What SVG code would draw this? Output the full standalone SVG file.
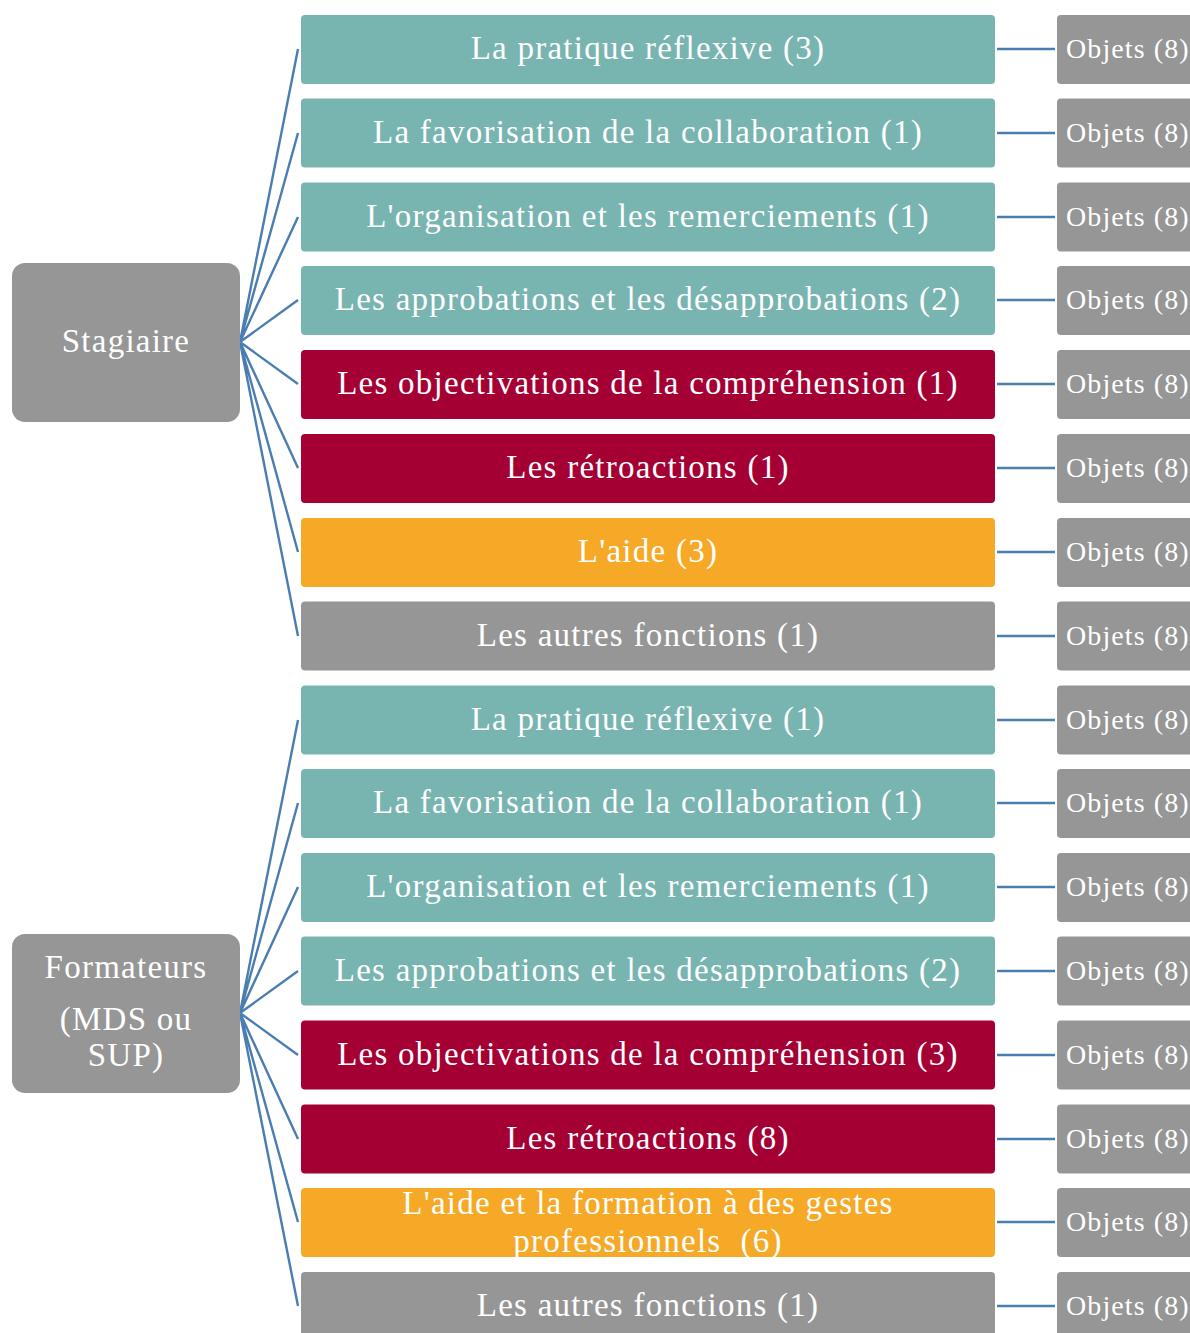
<svg xmlns="http://www.w3.org/2000/svg" width="1190" height="1333" viewBox="0 0 1190 1333">
<style>
.t{font-family:"Liberation Serif","DejaVu Serif",serif;fill:#fff;text-anchor:middle;font-size:33px;letter-spacing:1.25px}
.o{font-family:"Liberation Serif","DejaVu Serif",serif;fill:#fff;font-size:28px;letter-spacing:1.1px}
.teal{fill:#78B4B0}
.red{fill:#A50034}
.orange{fill:#F5A927}
.gray{fill:#969696}
.c{stroke:#4A7DB0;stroke-width:2.4;fill:none}
</style>
<defs><clipPath id="cp14"><rect x="301" y="1188" width="694" height="69"/></clipPath></defs>
<rect width="1190" height="1333" fill="#fff"/>
<g id="connectors">
<path class="c" d="M240 342L298 49M240 342L298 133M240 342L298 217M240 342L298 300M240 342L298 384M240 342L298 468M240 342L298 552M240 342L298 636"/>
<path class="c" d="M240 1013L298 720M240 1013L298 803M240 1013L298 887M240 1013L298 971M240 1013L298 1055M240 1013L298 1139M240 1013L298 1222M240 1013L298 1306"/>
<path class="c" d="M997 49H1055M997 133H1055M997 217H1055M997 300H1055M997 384H1055M997 468H1055M997 552H1055M997 636H1055M997 720H1055M997 803H1055M997 887H1055M997 971H1055M997 1055H1055M997 1139H1055M997 1222H1055M997 1306H1055"/>
</g>
<g id="stagiaire"><rect class="gray" x="12" y="263" width="228" height="159" rx="13"/><text class="t" x="126" y="352">Stagiaire</text></g>
<g id="formateurs"><rect class="gray" x="12" y="934" width="228" height="159" rx="13"/><text class="t" x="126" y="978">Formateurs</text><text class="t" x="126" y="1030">(MDS ou</text><text class="t" x="126" y="1066">SUP)</text></g>
<g id="s1"><rect class="teal" x="301" y="15" width="694" height="69" rx="4"/><text class="t" x="648" y="59">La pratique réflexive (3)</text></g>
<g id="s2"><rect class="teal" x="301" y="98.5" width="694" height="69" rx="4"/><text class="t" x="648" y="143">La favorisation de la collaboration (1)</text></g>
<g id="s3"><rect class="teal" x="301" y="182.5" width="694" height="69" rx="4"/><text class="t" x="648" y="227">L'organisation et les remerciements (1)</text></g>
<g id="s4"><rect class="teal" x="301" y="266" width="694" height="69" rx="4"/><text class="t" x="648" y="310">Les approbations et les désapprobations (2)</text></g>
<g id="s5"><rect class="red" x="301" y="350" width="694" height="69" rx="4"/><text class="t" x="648" y="394">Les objectivations de la compréhension (1)</text></g>
<g id="s6"><rect class="red" x="301" y="434" width="694" height="69" rx="4"/><text class="t" x="648" y="478">Les rétroactions (1)</text></g>
<g id="s7"><rect class="orange" x="301" y="518" width="694" height="69" rx="4"/><text class="t" x="648" y="562">L'aide (3)</text></g>
<g id="s8"><rect class="gray" x="301" y="601.5" width="694" height="69" rx="4"/><text class="t" x="648" y="646">Les autres fonctions (1)</text></g>
<g id="f1"><rect class="teal" x="301" y="685.5" width="694" height="69" rx="4"/><text class="t" x="648" y="730">La pratique réflexive (1)</text></g>
<g id="f2"><rect class="teal" x="301" y="769" width="694" height="69" rx="4"/><text class="t" x="648" y="813">La favorisation de la collaboration (1)</text></g>
<g id="f3"><rect class="teal" x="301" y="853" width="694" height="69" rx="4"/><text class="t" x="648" y="897">L'organisation et les remerciements (1)</text></g>
<g id="f4"><rect class="teal" x="301" y="936.5" width="694" height="69" rx="4"/><text class="t" x="648" y="981">Les approbations et les désapprobations (2)</text></g>
<g id="f5"><rect class="red" x="301" y="1020.5" width="694" height="69" rx="4"/><text class="t" x="648" y="1065">Les objectivations de la compréhension (3)</text></g>
<g id="f6"><rect class="red" x="301" y="1104.5" width="694" height="69" rx="4"/><text class="t" x="648" y="1149">Les rétroactions (8)</text></g>
<g id="f7"><rect class="orange" x="301" y="1188" width="694" height="69" rx="4"/><g clip-path="url(#cp14)"><text class="t" x="648" y="1214">L'aide et la formation à des gestes</text><text class="t" x="648" y="1252" xml:space="preserve">professionnels  (6)</text></g></g>
<g id="f8"><rect class="gray" x="301" y="1272" width="694" height="69" rx="4"/><text class="t" x="648" y="1316">Les autres fonctions (1)</text></g>
<g id="objets">
<rect class="gray" x="1057" y="15" width="150" height="69" rx="4"/><text class="o" x="1066" y="58">Objets (8)</text>
<rect class="gray" x="1057" y="98.5" width="150" height="69" rx="4"/><text class="o" x="1066" y="142">Objets (8)</text>
<rect class="gray" x="1057" y="182.5" width="150" height="69" rx="4"/><text class="o" x="1066" y="226">Objets (8)</text>
<rect class="gray" x="1057" y="266" width="150" height="69" rx="4"/><text class="o" x="1066" y="309">Objets (8)</text>
<rect class="gray" x="1057" y="350" width="150" height="69" rx="4"/><text class="o" x="1066" y="393">Objets (8)</text>
<rect class="gray" x="1057" y="434" width="150" height="69" rx="4"/><text class="o" x="1066" y="477">Objets (8)</text>
<rect class="gray" x="1057" y="518" width="150" height="69" rx="4"/><text class="o" x="1066" y="561">Objets (8)</text>
<rect class="gray" x="1057" y="601.5" width="150" height="69" rx="4"/><text class="o" x="1066" y="645">Objets (8)</text>
<rect class="gray" x="1057" y="685.5" width="150" height="69" rx="4"/><text class="o" x="1066" y="729">Objets (8)</text>
<rect class="gray" x="1057" y="769" width="150" height="69" rx="4"/><text class="o" x="1066" y="812">Objets (8)</text>
<rect class="gray" x="1057" y="853" width="150" height="69" rx="4"/><text class="o" x="1066" y="896">Objets (8)</text>
<rect class="gray" x="1057" y="936.5" width="150" height="69" rx="4"/><text class="o" x="1066" y="980">Objets (8)</text>
<rect class="gray" x="1057" y="1020.5" width="150" height="69" rx="4"/><text class="o" x="1066" y="1064">Objets (8)</text>
<rect class="gray" x="1057" y="1104.5" width="150" height="69" rx="4"/><text class="o" x="1066" y="1148">Objets (8)</text>
<rect class="gray" x="1057" y="1188" width="150" height="69" rx="4"/><text class="o" x="1066" y="1231">Objets (8)</text>
<rect class="gray" x="1057" y="1272" width="150" height="69" rx="4"/><text class="o" x="1066" y="1315">Objets (8)</text>
</g>
</svg>
